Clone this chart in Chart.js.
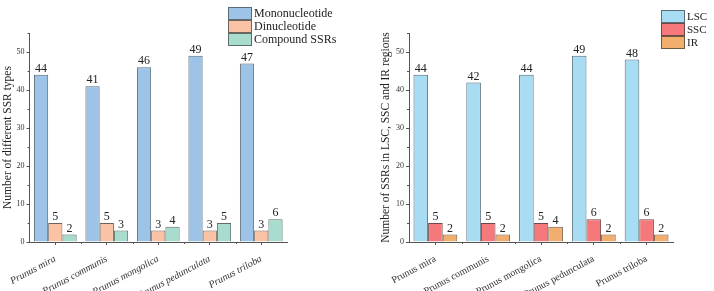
<!DOCTYPE html>
<html>
<head>
<meta charset="utf-8">
<script src="https://cdn.jsdelivr.net/npm/chart.js@4.4.1/dist/chart.umd.min.js"></script>
<style>
  html, body { margin: 0; padding: 0; background: #fff; }
  .panel { position: absolute; top: 0; width: 357px; height: 291px; }
  #left { left: 0; }
  #right { left: 357px; }
</style>
</head>
<body>
<div class="panel" id="left"><canvas id="chartLeft" width="357" height="291"></canvas></div>
<div class="panel" id="right"><canvas id="chartRight" width="357" height="291"></canvas></div>
<script>
// Données
const species = ['Prunus mira', 'Prunus communis', 'Prunus mongolica', 'Prunus pedunculata', 'Prunus triloba'];
const mononucleotide = [44, 41, 46, 49, 47];
const dinucleotide = [5, 5, 3, 3, 3];
const compoundSSRs = [2, 3, 4, 5, 6];
const lsc = [44, 42, 44, 49, 48];
const ssc = [5, 5, 5, 6, 6];
const ir = [2, 2, 4, 2, 2];
const yTickValues = [0, 10, 20, 30, 40, 50];
const yMinorValues = [5, 15, 25, 35, 45, 55];

const serif = '"Liberation Serif", "DejaVu Serif", serif';
const axisColor = '#555';

// Étiquettes de valeur au-dessus des barres
const valueLabels = {
    id: 'valueLabels',
    afterDatasetsDraw(chart) {
        const ctx = chart.ctx;
        ctx.save();
        ctx.font = '12px ' + serif;
        ctx.fillStyle = '#222';
        ctx.textAlign = 'center';
        ctx.textBaseline = 'bottom';
        chart.data.datasets.forEach((ds, i) => {
            chart.getDatasetMeta(i).data.forEach((bar, j) => {
                ctx.fillText(ds.data[j], bar.x, bar.y);
            });
        });
        ctx.restore();
    }
};

// Petites graduations (mineures)
const minorTicks = {
    id: 'minorTicks',
    afterDraw(chart) {
        const ctx = chart.ctx;
        const x = chart.scales.x;
        const y = chart.scales.y;
        ctx.save();
        ctx.strokeStyle = axisColor;
        ctx.lineWidth = 1;
        ctx.beginPath();
        for (const v of yMinorValues) {
            const py = Math.round(y.getPixelForValue(v)) + 0.5;
            ctx.moveTo(y.right - 2, py);
            ctx.lineTo(y.right, py);
        }
        for (let i = 0; i < species.length - 1; i++) {
            const px = Math.round((x.getPixelForValue(i) + x.getPixelForValue(i + 1)) / 2) + 0.5;
            ctx.moveTo(px, x.top);
            ctx.lineTo(px, x.top + 2);
        }
        ctx.stroke();
        ctx.restore();
    }
};

// Légende en boîtes empilées
const boxLegend = {
    id: 'boxLegend',
    afterDraw(chart, args, opts) {
        const ctx = chart.ctx;
        ctx.save();
        ctx.font = opts.fontSize + 'px ' + serif;
        ctx.textBaseline = 'middle';
        chart.data.datasets.forEach((ds, i) => {
            const top = opts.y + i * opts.rowHeight;
            ctx.fillStyle = ds.backgroundColor;
            ctx.fillRect(opts.x, top, opts.boxWidth, opts.rowHeight);
            ctx.strokeStyle = ds.borderColor;
            ctx.lineWidth = 1;
            ctx.strokeRect(opts.x + 0.5, top + 0.5, opts.boxWidth - 1, opts.rowHeight - 1);
            ctx.fillStyle = '#222';
            ctx.fillText(ds.label, opts.x + opts.boxWidth + 2, top + opts.rowHeight / 2 + 0.5);
        });
        ctx.restore();
    }
};

function createBarChart(canvasId, datasets, cfg) {
    const ctx = document.getElementById(canvasId).getContext('2d');

    return new Chart(ctx, {
        type: 'bar',
        data: {
            labels: species,
            datasets: datasets.map(d => ({
                label: d.label,
                data: d.data,
                backgroundColor: d.color,
                borderColor: d.border,
                borderWidth: 1,
                borderSkipped: 'bottom',
                categoryPercentage: 0.83,
                barPercentage: 1
            }))
        },
        options: {
            responsive: false,
            animation: false,
            layout: { padding: { top: 33, right: cfg.padRight, left: 0, bottom: 0 } },
            plugins: {
                legend: { display: false },
                tooltip: { enabled: false },
                boxLegend: cfg.legend
            },
            scales: {
                x: {
                    grid: { drawOnChartArea: false, offset: false, tickLength: 3, color: axisColor },
                    border: { display: true, color: axisColor, width: 1 },
                    ticks: {
                        minRotation: 28,
                        maxRotation: 28,
                        autoSkip: false,
                        padding: 8,
                        color: '#333',
                        font: { family: serif, size: 10, style: cfg.italic ? 'italic' : 'normal' }
                    },
                    afterFit(scale) { scale.height = 49; }
                },
                y: {
                    min: 0,
                    max: 55,
                    grid: { drawOnChartArea: false, tickLength: 3, color: axisColor },
                    border: { display: true, color: axisColor, width: 1 },
                    ticks: {
                        stepSize: 10,
                        padding: 2,
                        color: '#333',
                        font: { family: serif, size: 8 }
                    },
                    title: {
                        display: true,
                        text: cfg.yTitle,
                        color: '#222',
                        font: { family: serif, size: 11.5 },
                        padding: { top: cfg.titlePad, bottom: 0 }
                    },
                    afterBuildTicks(scale) {
                        scale.ticks = yTickValues.map(v => ({ value: v }));
                    },
                    afterFit(scale) { scale.width = cfg.yWidth; }
                }
            }
        },
        plugins: [valueLabels, minorTicks, boxLegend]
    });
}

createBarChart('chartLeft', [
    { label: 'Mononucleotide', data: mononucleotide, color: '#9dc3e6', border: '#5a6a78' },
    { label: 'Dinucleotide', data: dinucleotide, color: '#fbc3a6', border: '#6e625a' },
    { label: 'Compound SSRs', data: compoundSSRs, color: '#a8dccf', border: '#5a6e68' }
], {
    yTitle: 'Number of different SSR types',
    yWidth: 29,
    padRight: 70,
    titlePad: 1,
    italic: true,
    legend: { x: 228, y: 7, boxWidth: 24, rowHeight: 13, fontSize: 12 }
});

createBarChart('chartRight', [
    { label: 'LSC', data: lsc, color: '#a8dcf2', border: '#5a6e78' },
    { label: 'SSC', data: ssc, color: '#f5787a', border: '#6e4848' },
    { label: 'IR', data: ir, color: '#f2ae6c', border: '#6e5a40' }
], {
    yTitle: 'Number of SSRs in LSC, SSC and IR regions',
    yWidth: 52,
    padRight: 41,
    titlePad: 22,
    italic: false,
    legend: { x: 304, y: 10, boxWidth: 24, rowHeight: 13, fontSize: 11 }
});
</script>
</body>
</html>
